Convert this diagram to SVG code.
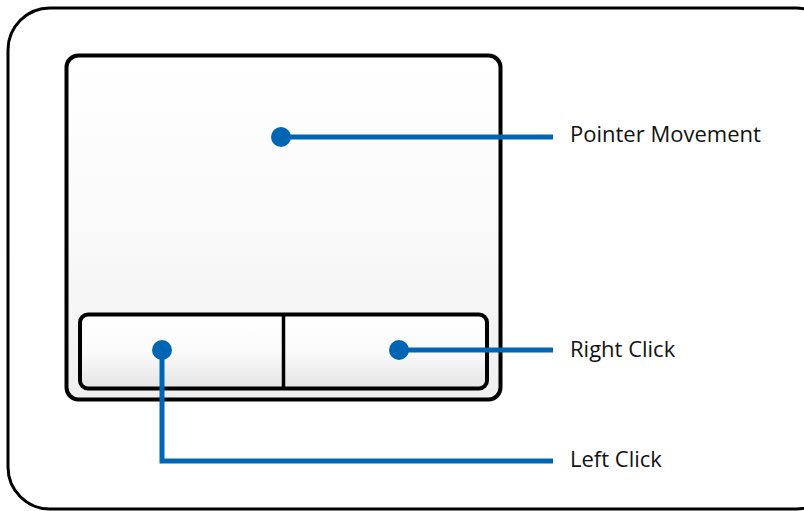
<svg xmlns="http://www.w3.org/2000/svg" width="804" height="511" viewBox="0 0 804 511">
<style>
.txt{font-family:"Open Sans","Liberation Sans",sans-serif;font-size:22px;fill:#111}
.lead{stroke:#0066b3;stroke-width:5;fill:none}
.dot{fill:#0066b3}
</style>
<defs>
<linearGradient id="padg" x1="0" y1="0" x2="0" y2="1">
<stop offset="0" stop-color="#ffffff"/>
<stop offset="0.5" stop-color="#fafafa"/>
<stop offset="1" stop-color="#efefef"/>
</linearGradient>
<linearGradient id="btng" x1="0" y1="0" x2="0" y2="1">
<stop offset="0" stop-color="#ffffff"/>
<stop offset="0.5" stop-color="#fbfbfb"/>
<stop offset="1" stop-color="#e4e4e4"/>
</linearGradient>
</defs>
<g id="frame">
<rect x="8" y="8" width="830" height="501" rx="42" fill="#fff" stroke="#000" stroke-width="3"/>
</g>
<g id="touchpad">
<rect x="66.5" y="55.5" width="434" height="344" rx="12" fill="url(#padg)" stroke="#000" stroke-width="4"/>
</g>
<g id="buttons">
<rect x="80" y="314.5" width="407" height="74" rx="8" fill="url(#btng)" stroke="#000" stroke-width="4"/>
<line x1="283.5" y1="314.5" x2="283.5" y2="388.5" stroke="#000" stroke-width="3.5"/>
</g>
<g id="connectors">
<path class="lead" d="M281 137 H553"/>
<path class="lead" d="M399 350 H553"/>
<path class="lead" d="M162 350 V461 H553"/>
<circle class="dot" cx="281" cy="137" r="10"/>
<circle class="dot" cx="399" cy="350" r="10"/>
<circle class="dot" cx="162" cy="350" r="10"/>
</g>
<g id="label-pointer"><text class="txt" x="570" y="142">Pointer Movement</text></g>
<g id="label-right"><text class="txt" x="570" y="357">Right Click</text></g>
<g id="label-left"><text class="txt" x="570" y="467">Left Click</text></g>
</svg>
